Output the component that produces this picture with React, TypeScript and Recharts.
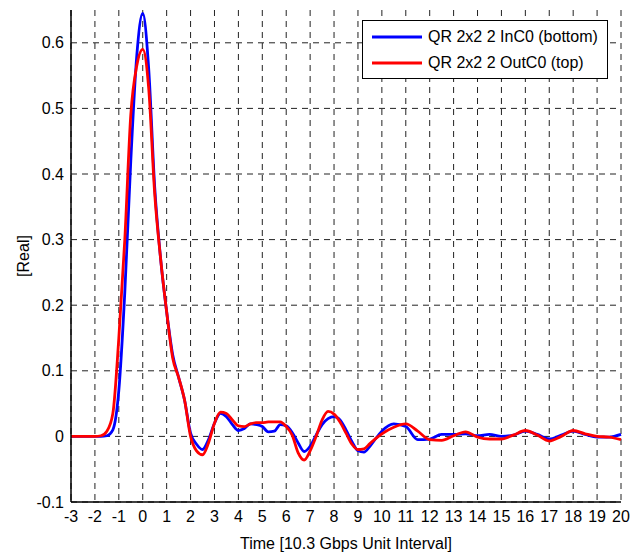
import { CartesianGrid, Legend, Line, LineChart, XAxis, YAxis } from 'recharts';

// time axis in unit intervals
const times = [
  -3, -2, -1.75, -1.5, -1.25, -1, -0.75, -0.5, -0.25, 0, 0.25, 0.5, 0.75, 1,
  1.25, 1.5, 1.75, 2, 2.25, 2.5, 2.75, 3, 3.25, 3.5, 3.75, 4, 4.25, 4.5, 4.75,
  5, 5.25, 5.5, 5.75, 6, 6.25, 6.5, 6.75, 7, 7.25, 7.5, 7.75, 8, 8.25, 8.5,
  8.75, 9, 9.25, 9.5, 9.75, 10, 10.5, 11, 11.5, 12, 12.5, 13, 13.5, 14, 14.5,
  15, 15.5, 16, 16.5, 17, 17.5, 18, 18.5, 19, 19.5, 20,
];

const inC0 = [
  0, 0, 0, 0.001, 0.01, 0.07, 0.22, 0.42, 0.58, 0.645, 0.56, 0.38, 0.27, 0.19,
  0.125, 0.09, 0.055, 0.005, -0.012, -0.02, -0.005, 0.02, 0.035, 0.03, 0.018,
  0.009, 0.012, 0.019, 0.018, 0.015, 0.007, 0.008, 0.018, 0.016, 0.006, -0.01,
  -0.023, -0.015, 0.002, 0.018, 0.027, 0.03, 0.025, 0.01, -0.008, -0.022,
  -0.024, -0.015, -0.003, 0.008, 0.019, 0.015, -0.005, -0.004, 0.003, 0.003,
  0.004, 0.001, 0.003, 0, 0.002, 0.008, 0.003, -0.004, 0.002, 0.008, 0.003,
  -0.001, -0.001, 0.003,
];

const outC0 = [
  0, 0, 0.001, 0.008, 0.035, 0.15, 0.3, 0.49, 0.565, 0.59, 0.53, 0.37, 0.27,
  0.19, 0.12, 0.09, 0.055, 0, -0.022, -0.028, -0.01, 0.02, 0.037, 0.035, 0.025,
  0.016, 0.015, 0.019, 0.021, 0.021, 0.022, 0.022, 0.022, 0.015, 0.002,
  -0.025, -0.036, -0.022, 0, 0.025, 0.038, 0.034, 0.022, 0.005, -0.012, -0.02,
  -0.019, -0.011, -0.003, 0.004, 0.014, 0.019, 0.008, -0.005, -0.006, 0.001,
  0.007, -0.001, -0.004, -0.004, 0.002, 0.009, 0.002, -0.007, 0, 0.009, 0.004,
  0, -0.001, -0.005,
];

const xTicks = [
  -3, -2, -1, 0, 1, 2, 3, 4, 5, 6, 7, 8, 9, 10, 11, 12, 13, 14, 15, 16, 17, 18,
  19, 20,
];
const yTicks = [-0.1, 0, 0.1, 0.2, 0.3, 0.4, 0.5, 0.6];

const seriesInfo = [
  { key: 'inC0', label: 'QR 2x2 2 InC0 (bottom)', color: '#0000ff' },
  { key: 'outC0', label: 'QR 2x2 2 OutC0 (top)', color: '#ff0000' },
];

const data = times.map((t, i) => ({ t, inC0: inC0[i], outC0: outC0[i] }));

const font = '"Liberation Sans", Arial, sans-serif';

function BoxLegend() {
  return (
    <div
      style={{
        border: '1px solid #000',
        background: '#fff',
        width: 246,
        height: 59,
        boxSizing: 'border-box',
        padding: '3px 0 0 9px',
        fontFamily: font,
      }}
    >
      {seriesInfo.map(s => (
        <div
          key={s.key}
          style={{ display: 'flex', alignItems: 'center', height: 26 }}
        >
          <svg width={50} height={4} style={{ display: 'block' }}>
            <line x1={0} x2={50} y1={2} y2={2} stroke={s.color} strokeWidth={3} />
          </svg>
          <span style={{ marginLeft: 6, fontSize: 16, lineHeight: '16px', color: '#000' }}>
            {s.label}
          </span>
        </div>
      ))}
    </div>
  );
}

export default function App() {
  return (
    <div
      style={{
        position: 'absolute',
        left: 0,
        top: 0,
        width: 630,
        height: 558,
        background: '#fff',
        fontFamily: font,
      }}
    >
      <LineChart
        width={630}
        height={558}
        data={data}
        margin={{ top: 10, right: 9, left: 0, bottom: 0 }}
      >
        <CartesianGrid
          stroke="#222"
          strokeDasharray="6 5"
          verticalValues={xTicks}
          horizontalValues={yTicks}
        />
        <XAxis
          dataKey="t"
          type="number"
          domain={[-3, 20]}
          ticks={xTicks}
          interval={0}
          height={56}
          tickLine={false}
          tickSize={5}
          tickMargin={4}
          axisLine={{ stroke: '#000', strokeWidth: 1.5 }}
          tick={{ fill: '#000', fontSize: 16 }}
          label={{
            value: 'Time [10.3 Gbps Unit Interval]',
            position: 'insideBottom',
            offset: 9,
            fill: '#000',
            fontSize: 16,
          }}
        />
        <XAxis
          xAxisId="top"
          orientation="top"
          dataKey="t"
          type="number"
          domain={[-3, 20]}
          ticks={xTicks}
          height={0}
          mirror
          tick={false}
          tickSize={5}
          axisLine={{ stroke: '#000', strokeWidth: 1.5 }}
          tickLine={{ stroke: '#000' }}
        />
        <YAxis
          type="number"
          domain={[-0.1, 0.65]}
          ticks={yTicks}
          interval={0}
          width={71}
          tickLine={false}
          tickSize={5}
          tickMargin={2}
          axisLine={{ stroke: '#000', strokeWidth: 1.5 }}
          tick={{ fill: '#000', fontSize: 16 }}
          label={{
            value: '[Real]',
            angle: -90,
            position: 'insideLeft',
            offset: 23,
            fill: '#000',
            fontSize: 16,
            style: { textAnchor: 'middle' },
          }}
        />
        <YAxis
          yAxisId="right"
          orientation="right"
          type="number"
          domain={[-0.1, 0.65]}
          ticks={yTicks}
          width={0}
          mirror
          tick={false}
          tickSize={5}
          axisLine={{ stroke: '#000', strokeWidth: 1.5 }}
          tickLine={{ stroke: '#000' }}
        />
        <Legend
          layout="horizontal"
          verticalAlign="middle"
          align="center"
          content={() => <BoxLegend />}
          wrapperStyle={{ top: 20, left: 362, width: 246, height: 59 }}
        />
        {seriesInfo.map(s => (
          <Line
            key={s.key}
            dataKey={s.key}
            type="monotone"
            stroke={s.color}
            strokeWidth={2.8}
            dot={false}
            activeDot={false}
            isAnimationActive={false}
          />
        ))}
      </LineChart>
    </div>
  );
}
